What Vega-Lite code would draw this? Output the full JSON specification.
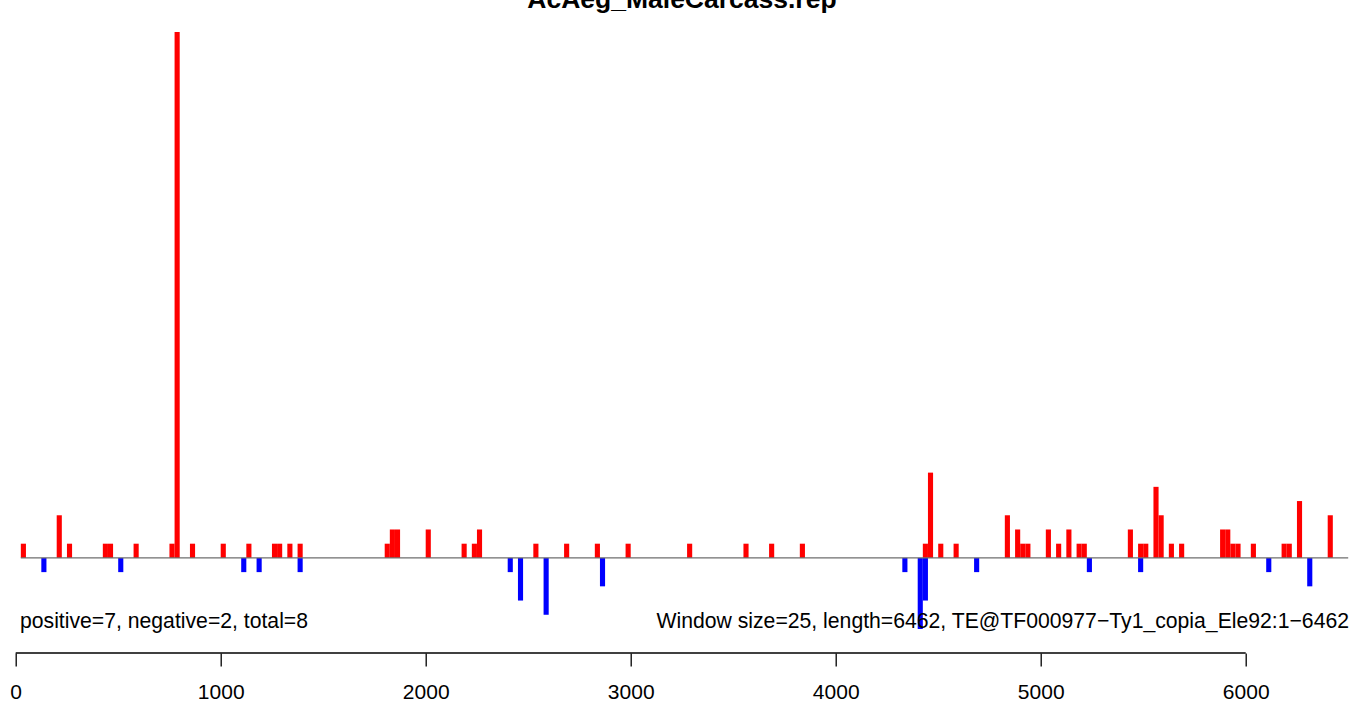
{
  "$schema": "https://vega.github.io/schema/vega-lite/v6.json",
  "autosize": {"type": "none"},
  "padding": {"left": 15.7, "top": 32, "right": 3.8, "bottom": 51},
  "width": 1332.5,
  "height": 621,
  "background": "white",
  "config": {"view": {"stroke": null}},
  "title": {
    "text": "AcAeg_MaleCarcass.rep",
    "font": "Liberation Sans",
    "fontSize": 26.5,
    "fontWeight": "bold",
    "color": "black",
    "anchor": "middle",
    "offset": 19
  },
  "resolve": {"axis": {"x": "independent", "y": "independent"}},
  "datasets": {
    "bars": [
      {"start": 25, "end": 50, "value": 1, "strand": "positive"},
      {"start": 200, "end": 225, "value": 3, "strand": "positive"},
      {"start": 250, "end": 275, "value": 1, "strand": "positive"},
      {"start": 425, "end": 450, "value": 1, "strand": "positive"},
      {"start": 450, "end": 475, "value": 1, "strand": "positive"},
      {"start": 575, "end": 600, "value": 1, "strand": "positive"},
      {"start": 750, "end": 775, "value": 1, "strand": "positive"},
      {"start": 775, "end": 800, "value": 37, "strand": "positive"},
      {"start": 850, "end": 875, "value": 1, "strand": "positive"},
      {"start": 1000, "end": 1025, "value": 1, "strand": "positive"},
      {"start": 1125, "end": 1150, "value": 1, "strand": "positive"},
      {"start": 1250, "end": 1275, "value": 1, "strand": "positive"},
      {"start": 1275, "end": 1300, "value": 1, "strand": "positive"},
      {"start": 1325, "end": 1350, "value": 1, "strand": "positive"},
      {"start": 1375, "end": 1400, "value": 1, "strand": "positive"},
      {"start": 1800, "end": 1825, "value": 1, "strand": "positive"},
      {"start": 1825, "end": 1850, "value": 2, "strand": "positive"},
      {"start": 1850, "end": 1875, "value": 2, "strand": "positive"},
      {"start": 2000, "end": 2025, "value": 2, "strand": "positive"},
      {"start": 2175, "end": 2200, "value": 1, "strand": "positive"},
      {"start": 2225, "end": 2250, "value": 1, "strand": "positive"},
      {"start": 2250, "end": 2275, "value": 2, "strand": "positive"},
      {"start": 2525, "end": 2550, "value": 1, "strand": "positive"},
      {"start": 2675, "end": 2700, "value": 1, "strand": "positive"},
      {"start": 2825, "end": 2850, "value": 1, "strand": "positive"},
      {"start": 2975, "end": 3000, "value": 1, "strand": "positive"},
      {"start": 3275, "end": 3300, "value": 1, "strand": "positive"},
      {"start": 3550, "end": 3575, "value": 1, "strand": "positive"},
      {"start": 3675, "end": 3700, "value": 1, "strand": "positive"},
      {"start": 3825, "end": 3850, "value": 1, "strand": "positive"},
      {"start": 4425, "end": 4450, "value": 1, "strand": "positive"},
      {"start": 4450, "end": 4475, "value": 6, "strand": "positive"},
      {"start": 4500, "end": 4525, "value": 1, "strand": "positive"},
      {"start": 4575, "end": 4600, "value": 1, "strand": "positive"},
      {"start": 4825, "end": 4850, "value": 3, "strand": "positive"},
      {"start": 4875, "end": 4900, "value": 2, "strand": "positive"},
      {"start": 4900, "end": 4925, "value": 1, "strand": "positive"},
      {"start": 4925, "end": 4950, "value": 1, "strand": "positive"},
      {"start": 5025, "end": 5050, "value": 2, "strand": "positive"},
      {"start": 5075, "end": 5100, "value": 1, "strand": "positive"},
      {"start": 5125, "end": 5150, "value": 2, "strand": "positive"},
      {"start": 5175, "end": 5200, "value": 1, "strand": "positive"},
      {"start": 5200, "end": 5225, "value": 1, "strand": "positive"},
      {"start": 5425, "end": 5450, "value": 2, "strand": "positive"},
      {"start": 5475, "end": 5500, "value": 1, "strand": "positive"},
      {"start": 5500, "end": 5525, "value": 1, "strand": "positive"},
      {"start": 5550, "end": 5575, "value": 5, "strand": "positive"},
      {"start": 5575, "end": 5600, "value": 3, "strand": "positive"},
      {"start": 5625, "end": 5650, "value": 1, "strand": "positive"},
      {"start": 5675, "end": 5700, "value": 1, "strand": "positive"},
      {"start": 5875, "end": 5900, "value": 2, "strand": "positive"},
      {"start": 5900, "end": 5925, "value": 2, "strand": "positive"},
      {"start": 5925, "end": 5950, "value": 1, "strand": "positive"},
      {"start": 5950, "end": 5975, "value": 1, "strand": "positive"},
      {"start": 6025, "end": 6050, "value": 1, "strand": "positive"},
      {"start": 6175, "end": 6200, "value": 1, "strand": "positive"},
      {"start": 6200, "end": 6225, "value": 1, "strand": "positive"},
      {"start": 6250, "end": 6275, "value": 4, "strand": "positive"},
      {"start": 6400, "end": 6425, "value": 3, "strand": "positive"},
      {"start": 125, "end": 150, "value": -1, "strand": "negative"},
      {"start": 500, "end": 525, "value": -1, "strand": "negative"},
      {"start": 1100, "end": 1125, "value": -1, "strand": "negative"},
      {"start": 1175, "end": 1200, "value": -1, "strand": "negative"},
      {"start": 1375, "end": 1400, "value": -1, "strand": "negative"},
      {"start": 2400, "end": 2425, "value": -1, "strand": "negative"},
      {"start": 2450, "end": 2475, "value": -3, "strand": "negative"},
      {"start": 2575, "end": 2600, "value": -4, "strand": "negative"},
      {"start": 2850, "end": 2875, "value": -2, "strand": "negative"},
      {"start": 4325, "end": 4350, "value": -1, "strand": "negative"},
      {"start": 4400, "end": 4425, "value": -5, "strand": "negative"},
      {"start": 4425, "end": 4450, "value": -3, "strand": "negative"},
      {"start": 4675, "end": 4700, "value": -1, "strand": "negative"},
      {"start": 5225, "end": 5250, "value": -1, "strand": "negative"},
      {"start": 5475, "end": 5500, "value": -1, "strand": "negative"},
      {"start": 6100, "end": 6125, "value": -1, "strand": "negative"},
      {"start": 6300, "end": 6325, "value": -2, "strand": "negative"}
    ],
    "notes": [
      {"left": "positive=7, negative=2, total=8", "right": "Window size=25, length=6462, TE@TF000977−Ty1_copia_Ele92:1−6462"}
    ]
  },
  "layer": [
    {
      "data": {"name": "bars"},
      "mark": {"type": "rect"},
      "encoding": {
        "x": {
          "field": "start", "type": "quantitative",
          "scale": {"domain": [0, 6500], "nice": false, "zero": false},
          "axis": {
            "values": [0, 1000, 2000, 3000, 4000, 5000, 6000],
            "format": "d",
            "domain": false, "grid": false, "title": null,
            "ticks": true, "tickColor": "black", "tickWidth": 1.3, "tickSize": 13,
            "labelFont": "Liberation Sans", "labelFontSize": 21, "labelColor": "black",
            "labelBaseline": "middle", "labelPadding": 26, "labelFlush": false, "labelOverlap": false
          }
        },
        "x2": {"field": "end"},
        "y": {"field": "value", "type": "quantitative", "scale": {"domain": [-6.69, 37], "nice": false, "zero": false}, "axis": null},
        "y2": {"datum": 0},
        "color": {
          "field": "strand", "type": "nominal",
          "scale": {"domain": ["positive", "negative"], "range": ["#ff0000", "#0000ff"]},
          "legend": null
        }
      }
    },
    {
      "data": {"name": "notes"},
      "mark": {"type": "rule", "color": "#6e6e6e", "strokeWidth": 1.3},
      "encoding": {
        "x": {"datum": 25, "type": "quantitative", "axis": null},
        "x2": {"datum": 6500},
        "y": {"datum": 0, "type": "quantitative", "axis": null}
      }
    },
    {
      "data": {"name": "notes"},
      "mark": {"type": "rule", "color": "black", "strokeWidth": 1.3},
      "encoding": {
        "x": {"datum": 0, "type": "quantitative", "axis": null},
        "x2": {"datum": 6000},
        "y": {"datum": -6.69, "type": "quantitative", "axis": null}
      }
    },
    {
      "data": {"name": "notes"},
      "mark": {"type": "text", "align": "left", "baseline": "middle", "font": "Liberation Sans", "fontSize": 21.2, "color": "black"},
      "encoding": {
        "x": {"datum": 21, "type": "quantitative", "axis": null},
        "y": {"datum": -4.5, "type": "quantitative", "axis": null},
        "text": {"field": "left", "type": "nominal"}
      }
    },
    {
      "data": {"name": "notes"},
      "mark": {"type": "text", "align": "right", "baseline": "middle", "font": "Liberation Sans", "fontSize": 21.2, "color": "black"},
      "encoding": {
        "x": {"datum": 6504, "type": "quantitative", "axis": null},
        "y": {"datum": -4.5, "type": "quantitative", "axis": null},
        "text": {"field": "right", "type": "nominal"}
      }
    }
  ]
}
